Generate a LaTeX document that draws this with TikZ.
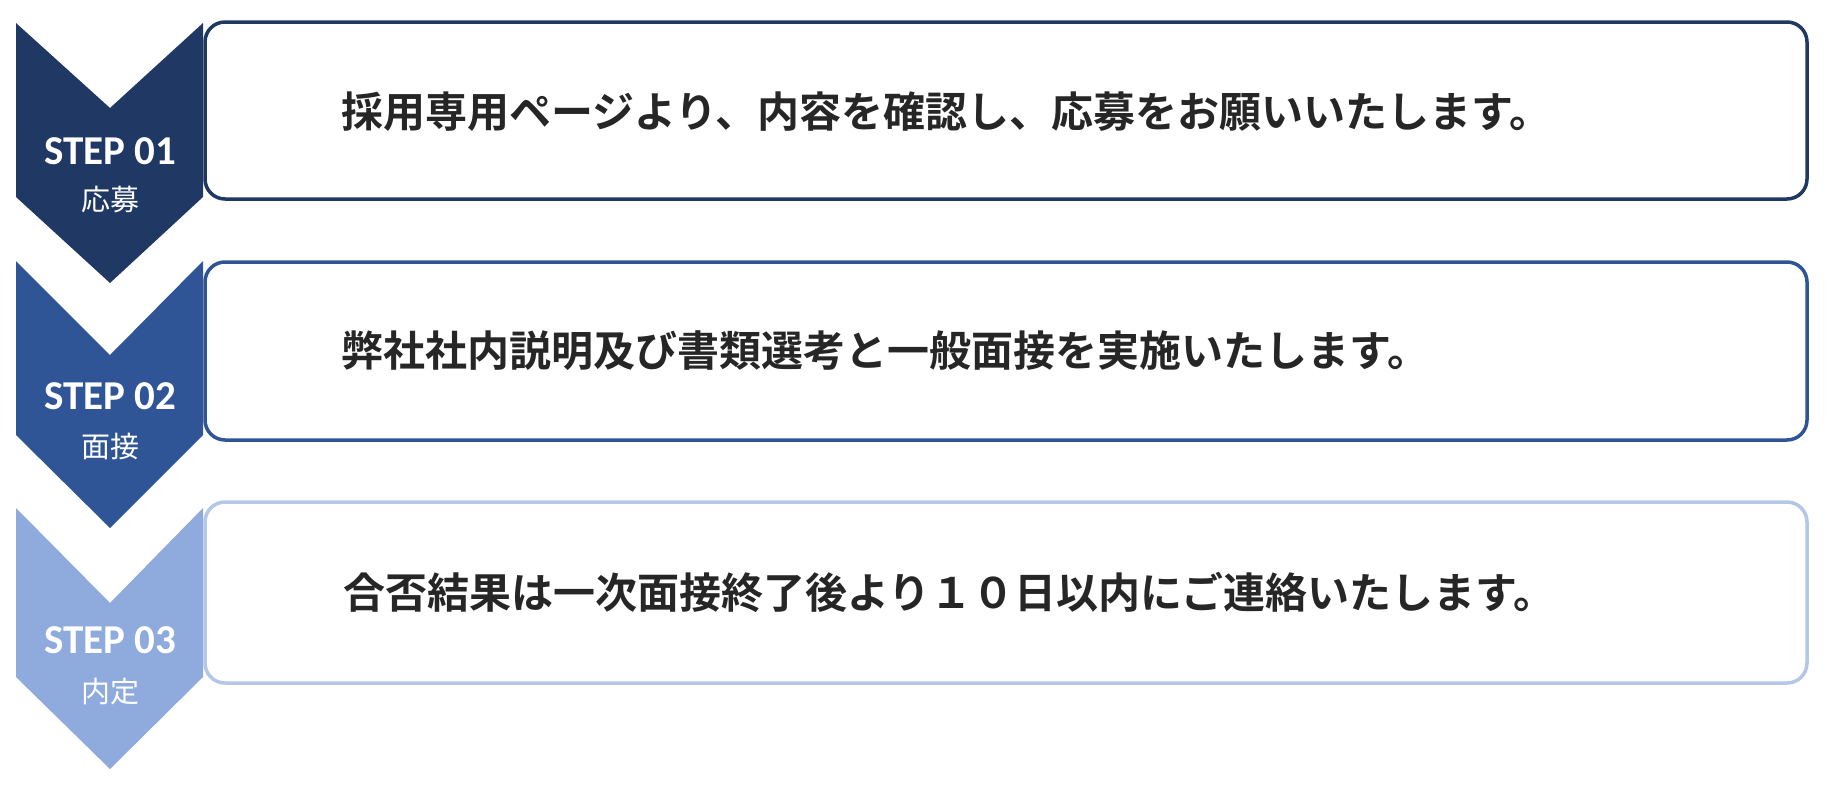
\documentclass[tikz,border=0pt]{standalone}
\usepackage{fontspec}
\setmainfont{Carlito}
\newfontfamily\jpfont{Noto Sans CJK JP}
\newfontfamily\jpboldfont{Noto Sans CJK JP Bold}
\definecolor{navy}{HTML}{203864}
\definecolor{midblue}{HTML}{2F5597}
\definecolor{paleblue}{HTML}{8FAADC}
\definecolor{lineblue}{HTML}{B4C7E7}
\definecolor{bodytext}{HTML}{262626}
\tikzset{
  stepframe/.style={line width=3.5pt, rounded corners=20pt, fill=white},
  steplabel/.style={text=white, font=\fontsize{41}{41}\bfseries, inner sep=0pt},
  stepname/.style={text=white, font=\fontsize{29}{29}\selectfont\jpfont, inner sep=0pt},
  stepbody/.style={text=bodytext, font=\fontsize{42}{42}\selectfont\jpboldfont, anchor=west, inner sep=0pt},
}
\begin{document}
\begin{tikzpicture}[x=1pt, y=-1pt]
      \useasboundingbox[fill=white] (0,0) rectangle (1831,795);
      % frames
      \draw[stepframe, draw=navy] (205,22) rectangle (1807,199);
      \draw[stepframe, draw=midblue] (205,262) rectangle (1807,440);
      \draw[stepframe, draw=lineblue] (205,502) rectangle (1807,683);
      % chevrons
      \fill[navy] (16,23) -- (110,108) -- (203,23) -- (203,197) -- (110,283) -- (16,197) -- cycle;
      \fill[midblue] (16,261) -- (110,355) -- (203,261) -- (203,435) -- (110,528) -- (16,435) -- cycle;
      \fill[paleblue] (16,508) -- (110,603) -- (203,508) -- (203,677) -- (110,769) -- (16,677) -- cycle;
      % labels
      \node[steplabel] (step1) at (110,151) {STEP 01};
      \node[stepname] (name1) at (110,200) {応募};
      \node[steplabel] (step2) at (110,396) {STEP 02};
      \node[stepname] (name2) at (110,446) {面接};
      \node[steplabel] (step3) at (110,640) {STEP 03};
      \node[stepname] (name3) at (110,692) {内定};
      % texts
      \node[stepbody] (body1) at (341,112) {採用専用ページより、内容を確認し、応募をお願いいたします。};
      \node[stepbody] (body2) at (341,351) {弊社社内説明及び書類選考と一般面接を実施いたします。};
      \node[stepbody] (body3) at (343,592) {合否結果は一次面接終了後より１０日以内にご連絡いたします。};
    \end{tikzpicture}
\end{document}
